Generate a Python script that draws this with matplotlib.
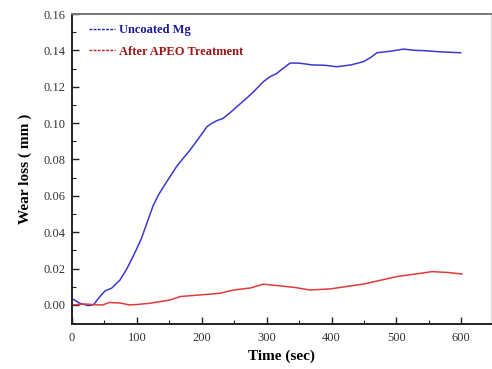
import matplotlib
matplotlib.use("Agg")
import matplotlib.pyplot as plt
from matplotlib.lines import Line2D
from matplotlib.ticker import MultipleLocator

# Data
time_uncoated = [0, 6, 12, 19, 25, 33, 43, 51, 61, 74, 84, 92, 100, 107, 118, 125, 133, 141,
                 151, 161, 171, 182, 195, 208, 215, 223, 233, 244, 254, 267, 280, 295, 305,
                 315, 325, 336, 350, 370, 390, 408, 430, 449, 460, 470, 490, 511,
                 530, 545, 563, 580, 599]
wear_uncoated = [0.0035, 0.0022, 0.0009, 0.0002, -0.0004, 0.0000, 0.0046, 0.0077, 0.0092, 0.0137,
                 0.0195, 0.0251, 0.0310, 0.0365, 0.0475, 0.0545, 0.0603, 0.0650,
                 0.0705, 0.0760, 0.0805, 0.0852, 0.0915, 0.0980, 0.0998, 0.1013, 0.1026, 0.1058,
                 0.1090, 0.1130, 0.1173, 0.1228, 0.1255, 0.1272, 0.1300, 0.1330, 0.1330, 0.1320,
                 0.1318, 0.1310, 0.1320, 0.1338, 0.1360, 0.1387, 0.1395, 0.1407, 0.1400, 0.1398,
                 0.1393, 0.1390, 0.1387]

time_apeo = [0, 20, 40, 48, 57, 75, 88, 100, 120, 136, 151, 167, 198, 228, 249, 275, 295, 320,
             345, 367, 398, 425, 450, 475, 501, 530, 555, 580, 601]
wear_apeo = [0.0000, 0.0005, 0.0000, 0.0000, 0.0013, 0.0010, 0.0000, 0.0002, 0.0009, 0.0018,
             0.0027, 0.0046, 0.0055, 0.0064, 0.0082, 0.0093, 0.0114, 0.0105, 0.0095, 0.0082,
             0.0088, 0.0102, 0.0115, 0.0135, 0.0156, 0.0170, 0.0183, 0.0178, 0.0170]

label_uncoated = "Uncoated Mg"
label_apeo = "After APEO Treatment"
x_ticks = [0, 100, 200, 300, 400, 500, 600]
y_ticks = [0.00, 0.02, 0.04, 0.06, 0.08, 0.10, 0.12, 0.14, 0.16]

plt.rcParams['font.family'] = ['Liberation Serif', 'DejaVu Serif']

fig = plt.figure(figsize=(4.92, 3.69), dpi=100)
ax = fig.add_axes([0.1463, 0.122, 0.852, 0.84])

blue = '#3a3acc'
red = '#e03a3a'
ax.plot(time_uncoated, wear_uncoated, color=blue, lw=1.1)
ax.plot(time_apeo, wear_apeo, color=red, lw=1.1)

ax.set_xlim(0, 646)
ax.set_ylim(-0.0105, 0.16)
ax.set_xticks(x_ticks)
ax.set_yticks(y_ticks)
ax.set_xticklabels([str(v) for v in x_ticks])
ax.set_yticklabels([f"{v:.2f}" for v in y_ticks])
ax.xaxis.set_minor_locator(MultipleLocator(50))
ax.yaxis.set_minor_locator(MultipleLocator(0.01))
ax.tick_params(which='both', direction='in', top=False, right=False, labelsize=9,
               labelcolor='#333333', color='#222222')
ax.tick_params(which='major', length=5, width=1)
ax.tick_params(which='minor', length=3, width=0.8)
ax.tick_params(axis='x', pad=6)
ax.tick_params(axis='y', pad=5)

for s in ['left', 'bottom']:
    ax.spines[s].set_linewidth(1.4)
    ax.spines[s].set_color('#222222')
ax.spines['top'].set_linewidth(1.4)
ax.spines['top'].set_color('#777777')
ax.spines['right'].set_linewidth(0.8)
ax.spines['right'].set_color('#dddddd')

ax.set_xlabel("Time (sec)", fontsize=11, fontweight='bold', labelpad=4)
ax.set_ylabel("Wear loss ( mm )", fontsize=11, fontweight='bold', labelpad=8)

handles = [Line2D([0], [0], color='#2222aa', lw=1, ls=(0, (2, 1))),
           Line2D([0], [0], color='#bb2222', lw=1, ls=(0, (2, 1)))]
leg = ax.legend(handles, [label_uncoated, label_apeo], loc='upper left', frameon=False,
                prop={'weight': 'bold', 'size': 9}, handlelength=2.1, handletextpad=0.3,
                borderaxespad=0.3, labelspacing=0.75, bbox_to_anchor=(0.02, 0.995))
for t, c in zip(leg.get_texts(), ['#1a1a99', '#a01515']):
    t.set_color(c)

fig.savefig("out.png", dpi=100)
